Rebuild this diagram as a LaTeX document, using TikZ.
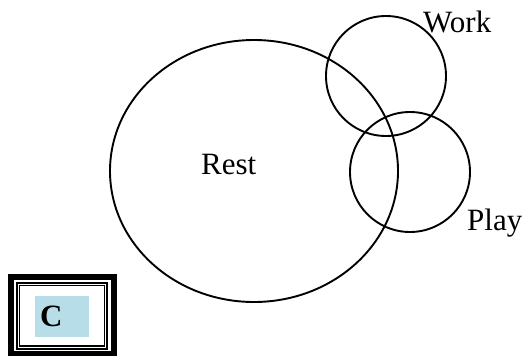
\documentclass[tikz,border=0pt]{standalone}
\usepackage{fontspec}
\setmainfont{Liberation Serif}
\usetikzlibrary{shapes.geometric}
\definecolor{paleblue}{HTML}{B7DEE8}
\begin{document}
\begin{tikzpicture}[x=1pt,y=-1pt,
  ring/.style={draw=black,line width=1.9pt},
  label/.style={anchor=base west,inner sep=0pt,font=\fontsize{31}{36}\selectfont},
  frame/.style={draw=black}]
\useasboundingbox (0,0) rectangle (522,356);
% Venn-style sets
\node[ring,ellipse,minimum width=288,minimum height=262,inner sep=0pt] (rest) at (254,171) {};
\node[ring,circle,minimum size=120,inner sep=0pt] (work) at (386,76) {};
\node[ring,circle,minimum size=120,inner sep=0pt] (play) at (410,172) {};
\node[label] (restlbl) at (201,174) {Rest};
\node[label] (worklbl) at (423,32) {Work};
\node[label] (playlbl) at (467,230) {Play};
% framed letter box
\draw[frame,line width=6pt] (11.3,277.3) rectangle (114,354.3);
\draw[frame,line width=2pt] (17,283) rectangle (107.3,349);
\draw[frame,line width=1.2pt] (19.7,285.7) rectangle (104.7,346);
\node[fill=paleblue,minimum width=54,minimum height=41,inner sep=0pt] (cbox) at (62,316.2) {};
\node[label,font=\fontsize{31}{36}\selectfont\bfseries] (clbl) at (40,326.7) {C};
\end{tikzpicture}
\end{document}
